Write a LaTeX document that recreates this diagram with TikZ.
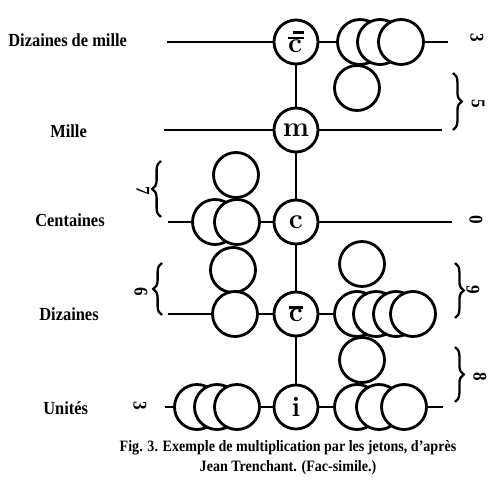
\documentclass[tikz,border=0pt]{standalone}
\usepackage{fontspec}
\usepackage{tikz}
\usetikzlibrary{decorations.pathreplacing}
\newfontfamily\oldface[FakeStretch=0.89]{Liberation Serif}

% barred letters of the rows
\newcommand{\dixbar}{\vbox{\hrule height 1.5pt\kern 0.3pt\hbox{c}}}
\newcommand{\dixmbar}{\vbox{\moveright 3pt\vbox{\hrule width 6pt height 1.3pt}\kern 1.6pt\hrule height 1.5pt\kern 0.3pt\hbox{c}}}

\tikzstyle{rowmark} = [
circle,
draw,
line width=1.6pt,
fill=white,
minimum size=0.88cm,
inner sep=0pt,
font=\fontsize{16}{16}\selectfont\bfseries
]
\tikzstyle{jeton} = [
circle,
draw,
line width=1.6pt,
fill=white,
minimum size=0.9cm,
inner sep=0pt
]
\tikzstyle{rod} = [
line width=1.6pt
]
\tikzstyle{rowname} = [
anchor=west,
inner sep=0pt,
font=\oldface\bfseries\fontsize{10.5}{12}\selectfont
]
\tikzstyle{digit} = [
rotate=-90,
inner sep=0pt,
font=\oldface\bfseries\fontsize{11}{11}\selectfont
]
\tikzstyle{brace} = [
decorate,
decoration={brace,amplitude=5pt},
line width=1.3pt
]

\begin{document}
\begin{tikzpicture}[x=0.02cm,y=-0.02cm]

\fill[white] (0,0) rectangle (500,489);
\useasboundingbox (0,0) rectangle (500,489);

% rows
\node (dm) [rowmark] at (296,42) {\dixmbar};
\node (mi) [rowmark] at (296,130) {m};
\node (ce) [rowmark] at (296,222) {c};
\node (di) [rowmark] at (296,314) {\dixbar};
\node (un) [rowmark] at (296,407) {i};

\coordinate (dmL) at (167,42);
\coordinate (dmR) at (448,42);
\coordinate (miL) at (164,130);
\coordinate (miR) at (442,130);
\coordinate (ceL) at (168,222);
\coordinate (ceR) at (452,222);
\coordinate (diL) at (168,314);
\coordinate (diR) at (425,314);
\coordinate (unL) at (165,407);
\coordinate (unR) at (443,407);

\draw [rod] (dmL) -- (dm) -- (dmR);
\draw [rod] (miL) -- (mi) -- (miR);
\draw [rod] (ceL) -- (ce) -- (ceR);
\draw [rod] (diL) -- (di) -- (diR);
\draw [rod] (unL) -- (un) -- (unR);
\draw [rod] (dm) -- (mi) -- (ce) -- (di) -- (un);

% jetons
\foreach \x [count=\k] in {360,380,401}
  \node (dmj\k) [jeton] at (\x,42) {};
\node (mis) [jeton] at (357,88) {};
\node (ces) [jeton] at (236,175) {};
\foreach \x [count=\k] in {215,237}
  \node (cej\k) [jeton] at (\x,222) {};
\node (dils) [jeton] at (233,270) {};
\node (dilj) [jeton] at (235,314) {};
\node (dirs) [jeton] at (362,264) {};
\foreach \x [count=\k] in {357,376,396,413}
  \node (dirj\k) [jeton] at (\x,314) {};
\foreach \x [count=\k] in {197,217,237}
  \node (unlj\k) [jeton] at (\x,407) {};
\node (unrs) [jeton] at (362,360) {};
\foreach \x [count=\k] in {357,379,404}
  \node (unrj\k) [jeton] at (\x,407) {};

% braces
\coordinate (miBt) at (453,73);
\coordinate (miBb) at (453,130);
\coordinate (diBt) at (455,263);
\coordinate (diBb) at (455,318);
\coordinate (unBt) at (455,347);
\coordinate (unBb) at (455,402);
\coordinate (ceLt) at (161,161);
\coordinate (ceLb) at (161,217);
\coordinate (diLt) at (162,263);
\coordinate (diLb) at (162,315);
\draw [brace] (miBt) -- (miBb);
\draw [brace] (diBt) -- (diBb);
\draw [brace] (unBt) -- (unBb);
\draw [brace] (ceLb) -- (ceLt);
\draw [brace] (diLb) -- (diLt);

% figures of the factors and product
\node (r1) [digit] at (477,38) {3};
\node (r2) [digit] at (478,104) {5};
\node (r3) [digit] at (476,220) {0};
\node (r4) [digit] at (473,290) {9};
\node (r5) [digit] at (480,377) {8};
\node (l1) [digit] at (143,191) {7};
\node (l2) [digit] at (141,292) {6};
\node (l3) [digit] at (140,406) {3};

% names of the rows
\node (ndm) [rowname] at (8,40) {Dizaines de mille};
\node (nmi) [rowname] at (50,131) {Mille};
\node (nce) [rowname] at (35,220) {Centaines};
\node (ndi) [rowname] at (39,314) {Dizaines};
\node (nun) [rowname] at (43,408) {Unités};

\node (cap) [align=center, inner sep=0pt,
  font=\oldface\bfseries\fontsize{9}{11.4}\selectfont] at (288,458)
  {Fig. 3. Exemple de multiplication par les jetons, d’après\\Jean Trenchant. (Fac-simile.)};

\end{tikzpicture}
\end{document}
